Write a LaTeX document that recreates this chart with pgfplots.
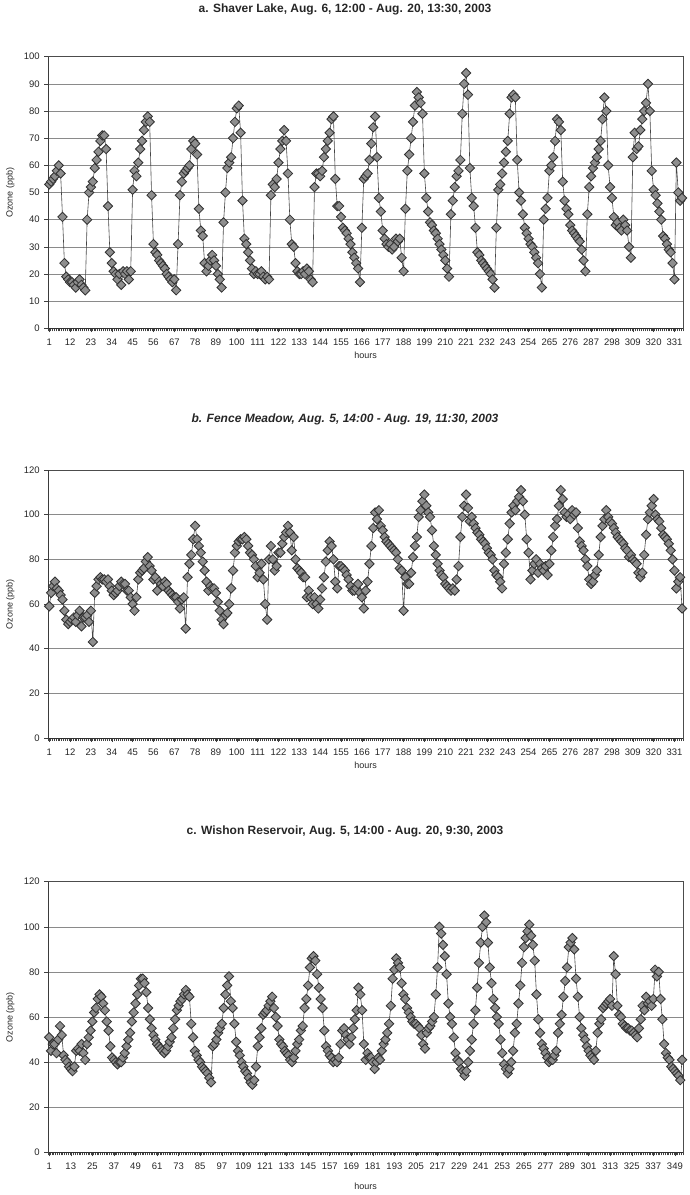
\documentclass[border=0pt]{standalone}
\usepackage{fontspec}
\setmainfont{Liberation Sans}
\usepackage{pgfplots}
\pgfplotsset{compat=1.18}

\definecolor{mfill}{HTML}{8E8E8E}
\definecolor{mdraw}{HTML}{333333}
\definecolor{lcol}{HTML}{454545}
\definecolor{gridc}{HTML}{8A8A8A}

\pgfplotsset{ozone/.style={
  scale only axis, width=634.7pt,
  xmin=0.5, ymin=0,
  tick pos=left,
  ymajorgrids, major grid style={draw=gridc, line width=0.5pt},
  tick align=outside, major tick length=4pt, minor tick length=3pt,
  xtick style={draw=black!75, line width=0.5pt},
  minor tick style={draw=black!70, line width=0.4pt},
  ytick style={draw=black!75, line width=0.5pt},
  ticklabel style={font=\fontsize{9.5}{11}\selectfont, text=black!85},
  x tick label style={yshift=-3pt},
  y tick label style={xshift=-1pt},
  /pgf/number format/assume math mode=true,
  axis line style={draw=gray!60!black, line width=0.6pt},
  xlabel={hours}, ylabel={Ozone (ppb)},
  label style={font=\fontsize{9}{11}\selectfont, text=black!85},
  ylabel style={at={(axis description cs:-0.060,0.5)}, anchor=center},
  xlabel style={at={(axis description cs:0.5,0)}, anchor=center},
  title style={at={(axis description cs:0.4675,1)}, anchor=center, font=\bfseries\fontsize{12}{14}\selectfont, text=black!85},
},
ozplot/.style={draw=lcol, line width=0.6pt, mark=square*, mark size=3.3pt,
    mark options={rotate=45, fill=mfill, draw=mdraw, line width=0.85pt, solid}},
}

\begin{document}
\begin{tikzpicture}
\path[use as bounding box] (0pt,0pt) rectangle (689pt,-1195pt);

% ---------------- a. Shaver Lake ----------------
\begin{axis}[ozone, at={(48.3pt,-56.7pt)}, anchor=north west, height=271.6pt,
  xmax=335.5, ymax=100, ytick={0,10,...,100},
  xtick={1,12,...,331}, minor xtick={0.5,1.5,...,335.5},
  xlabel style={yshift=-27pt}, title style={yshift=41pt},
  title={a. Shaver Lake, Aug. 6, 12:00 - Aug. 20, 13:30, 2003}]
\addplot[ozplot] table[row sep=\\, header=false, x expr=\coordindex+1, y index=0] {
53\\54\\55\\56\\58\\60\\57\\41\\24\\19\\
18\\17\\17\\16\\15\\17\\18\\16\\15\\14\\
40\\50\\52\\54\\59\\62\\65\\69\\71\\71\\
66\\45\\28\\24\\21\\20\\18\\20\\16\\21\\
20\\21\\18\\21\\51\\58\\56\\61\\66\\69\\
73\\76\\78\\76\\49\\31\\28\\27\\25\\24\\
23\\22\\20\\19\\18\\17\\18\\14\\31\\49\\
54\\57\\58\\59\\60\\66\\69\\68\\64\\44\\
36\\34\\24\\21\\23\\25\\27\\25\\23\\20\\
18\\15\\39\\50\\59\\61\\63\\70\\76\\81\\
82\\72\\47\\33\\31\\28\\25\\22\\20\\21\\
20\\20\\21\\19\\18\\19\\18\\
49\\53\\52\\55\\61\\66\\69\\73\\69\\57\\
40\\31\\30\\24\\21\\20\\20\\21\\20\\22\\21\\18\\17\\
52\\57\\57\\56\\58\\63\\66\\69\\72\\77\\78\\
55\\45\\45\\41\\37\\36\\35\\33\\31\\28\\26\\24\\22\\17\\
37\\55\\56\\57\\62\\68\\74\\78\\
63\\48\\43\\36\\33\\31\\30\\31\\29\\30\\33\\32\\33\\26\\21\\
44\\58\\64\\70\\76\\82\\87\\85\\83\\79\\
57\\48\\43\\39\\38\\36\\35\\33\\31\\29\\27\\25\\22\\19\\
42\\47\\52\\56\\58\\62\\79\\90\\94\\86\\
59\\48\\45\\37\\28\\27\\25\\24\\23\\22\\21\\20\\18\\15\\
37\\51\\53\\57\\61\\65\\69\\79\\85\\86\\85\\
62\\50\\47\\42\\37\\35\\33\\31\\30\\28\\26\\24\\20\\15\\
40\\44\\48\\58\\60\\63\\69\\77\\76\\73\\
54\\47\\44\\42\\38\\36\\35\\34\\33\\32\\29\\25\\21\\
42\\52\\56\\59\\61\\63\\66\\69\\77\\85\\80\\
60\\52\\48\\41\\38\\39\\37\\36\\40\\38\\36\\30\\26\\
63\\72\\66\\67\\73\\77\\80\\83\\90\\80\\
58\\51\\49\\46\\43\\40\\34\\33\\31\\29\\28\\24\\18\\
61\\50\\47\\48\\
};
\draw[line width=1pt, black!80] (rel axis cs:0,1) -- (rel axis cs:0,0) -- (rel axis cs:1,0);
\end{axis}

% ---------------- b. Fence Meadow ----------------
\begin{axis}[ozone, at={(48.3pt,-470pt)}, anchor=north west, height=268pt,
  xmax=335.5, ymax=120, ytick={0,20,...,120},
  xtick={1,12,...,331}, minor xtick={0.5,1.5,...,335.5},
  xlabel style={yshift=-27pt}, title style={yshift=45pt, font=\bfseries\itshape\fontsize{12}{14}\selectfont},
  title={b. Fence Meadow, Aug. 5, 14:00 - Aug. 19, 11:30, 2003}]
\addplot[ozplot] table[row sep=\\, header=false, x expr=\coordindex+1, y index=0] {
59\\65\\68\\70\\67\\66\\64\\62\\57\\53\\
51\\52\\53\\54\\52\\55\\57\\50\\54\\54\\
55\\52\\57\\43\\65\\68\\71\\72\\71\\71\\
70\\71\\68\\66\\64\\65\\66\\68\\70\\69\\
69\\66\\66\\63\\60\\57\\63\\71\\74\\75\\
76\\79\\81\\77\\75\\71\\72\\66\\70\\69\\
68\\70\\69\\66\\65\\64\\63\\63\\61\\58\\
62\\63\\49\\72\\78\\82\\89\\95\\89\\86\\
83\\79\\75\\70\\66\\68\\67\\67\\65\\61\\
57\\53\\51\\55\\56\\60\\67\\75\\83\\86\\
88\\89\\89\\90\\89\\86\\83\\82\\80\\77\\
72\\74\\78\\71\\60\\53\\80\\86\\80\\75\\
77\\83\\83\\87\\90\\92\\95\\92\\84\\90\\
80\\76\\75\\74\\72\\72\\63\\66\\63\\60\\
63\\60\\58\\62\\67\\72\\79\\84\\88\\86\\
80\\70\\67\\77\\77\\76\\75\\73\\71\\68\\
66\\66\\67\\69\\65\\63\\58\\66\\70\\78\\
86\\94\\101\\98\\102\\95\\93\\90\\88\\87\\
86\\85\\84\\83\\80\\76\\75\\57\\72\\69\\
69\\74\\81\\86\\90\\99\\102\\106\\109\\104\\
101\\99\\93\\86\\82\\78\\75\\73\\72\\69\\
68\\67\\66\\67\\
66\\71\\77\\90\\99\\104\\109\\103\\97\\99\\
96\\94\\92\\91\\89\\88\\87\\85\\83\\82\\
80\\75\\73\\72\\70\\67\\78\\83\\89\\96\\
101\\104\\102\\106\\108\\111\\106\\100\\89\\83\\
71\\75\\78\\80\\74\\78\\76\\75\\77\\73\\
78\\84\\90\\95\\98\\104\\111\\107\\101\\99\\
100\\98\\102\\100\\101\\94\\88\\86\\84\\80\\
77\\71\\69\\70\\73\\75\\82\\90\\95\\98\\
102\\99\\97\\96\\94\\92\\90\\89\\88\\87\\
85\\84\\81\\82\\80\\79\\78\\74\\72\\74\\
82\\91\\98\\101\\104\\107\\100\\98\\97\\94\\
91\\90\\89\\87\\84\\80\\75\\67\\70\\72\\58\\
};
\draw[line width=1pt, black!80] (rel axis cs:0,1) -- (rel axis cs:0,0) -- (rel axis cs:1,0);
\end{axis}

% ---------------- c. Wishon Reservoir ----------------
\begin{axis}[ozone, at={(48.3pt,-881.7pt)}, anchor=north west, height=270.6pt,
  xmax=353.5, ymax=120, ytick={0,20,...,120},
  xtick={1,13,...,349}, minor xtick={0.5,1.5,...,353.5},
  xlabel style={yshift=-34pt}, title style={yshift=44pt},
  title={c. Wishon Reservoir, Aug. 5, 14:00 - Aug. 20, 9:30, 2003}]
\addplot[ozplot] table[row sep=\\, header=false, x expr=\coordindex+1, y index=0] {
51\\45\\48\\48\\44\\50\\56\\52\\43\\41\\
40\\38\\37\\36\\38\\45\\46\\45\\48\\44\\
41\\48\\51\\54\\58\\62\\64\\68\\70\\69\\
66\\63\\58\\54\\47\\42\\41\\40\\39\\40\\
40\\42\\44\\47\\50\\53\\58\\62\\66\\70\\
74\\77\\77\\75\\71\\64\\59\\55\\52\\50\\
48\\47\\46\\45\\44\\45\\47\\49\\51\\55\\
59\\63\\65\\67\\68\\70\\72\\70\\69\\57\\
51\\45\\43\\41\\40\\38\\37\\36\\35\\33\\
31\\47\\48\\50\\53\\55\\57\\64\\70\\74\\
78\\67\\64\\57\\49\\45\\43\\40\\38\\36\\
35\\33\\31\\30\\32\\38\\47\\51\\55\\61\\
62\\63\\65\\67\\69\\64\\60\\56\\50\\48\\
47\\45\\44\\43\\41\\40\\42\\45\\48\\50\\
54\\56\\64\\68\\74\\82\\86\\87\\85\\79\\
73\\68\\64\\54\\47\\45\\43\\42\\40\\41\\
40\\42\\48\\54\\55\\52\\50\\48\\51\\55\\
59\\63\\73\\70\\63\\48\\41\\44\\42\\42\\
40\\37\\40\\42\\41\\45\\48\\50\\53\\57\\
65\\77\\81\\86\\84\\82\\75\\70\\68\\64\\
62\\60\\58\\57\\57\\56\\55\\52\\48\\46\\
53\\55\\56\\58\\60\\70\\82\\100\\97\\92\\
87\\79\\66\\60\\57\\51\\44\\41\\40\\37\\
36\\34\\36\\40\\45\\50\\57\\63\\73\\84\\
93\\100\\105\\102\\93\\82\\75\\68\\64\\60\\
57\\50\\44\\39\\37\\35\\37\\40\\45\\53\\
57\\66\\74\\84\\91\\95\\98\\101\\96\\92\\
85\\70\\59\\53\\48\\46\\44\\42\\40\\41\\
41\\43\\45\\53\\57\\61\\69\\76\\82\\91\\
93\\95\\90\\77\\69\\60\\55\\52\\50\\47\\
45\\43\\42\\41\\45\\53\\57\\59\\64\\65\\
66\\67\\68\\65\\87\\79\\65\\61\\60\\57\\
56\\55\\55\\54\\54\\53\\52\\51\\55\\59\\
65\\63\\69\\66\\67\\65\\68\\81\\78\\80\\
68\\59\\48\\44\\42\\41\\38\\37\\36\\35\\
34\\32\\41\\
};
\draw[line width=1pt, black!80] (rel axis cs:0,1) -- (rel axis cs:0,0) -- (rel axis cs:1,0);
\end{axis}
\end{tikzpicture}
\end{document}
